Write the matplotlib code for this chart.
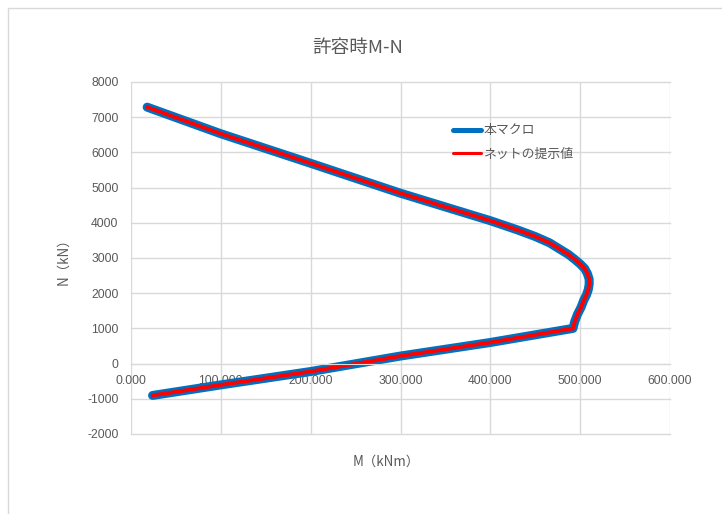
import matplotlib.pyplot as plt
from matplotlib.patches import Rectangle

# M-N interaction curve (allowable), kNm / kN, traced from top of the compression side
moment = [18, 100, 200, 300, 400, 430, 450, 466, 478, 487, 494, 500, 505, 508, 510,
          510, 509, 507, 504, 501, 497, 494, 492, 400, 300, 200, 100, 24]
axial = [7285, 6530, 5690, 4840, 4060, 3800, 3610, 3430, 3240, 3100, 2960, 2830, 2700,
         2560, 2400, 2250, 2100, 1950, 1800, 1600, 1400, 1200, 1000, 600, 215, -225, -605, -905]

# reference values from the web (same curve)
moment_net = list(moment)
axial_net = list(axial)

series_labels = ["本マクロ", "ネットの提示値"]
x_ticks = [0, 100, 200, 300, 400, 500, 600]
y_ticks = [-2000, -1000, 0, 1000, 2000, 3000, 4000, 5000, 6000, 7000, 8000]

GRID = "#D9D9D9"
TEXT = "#595959"
JP = ["Noto Sans CJK JP", "DejaVu Sans"]
NUM = ["Liberation Sans", "DejaVu Sans"]

W, H = 722, 514
fig = plt.figure(figsize=(W / 100, H / 100), dpi=100)
fig.patch.set_facecolor("white")

# chart area border
fig.patches.append(Rectangle((8 / W, -0.1), 1.2, 1.1 - 8 / H, transform=fig.transFigure,
                             fill=False, edgecolor=GRID, linewidth=1.0))

ax = fig.add_axes([131 / W, 80 / H, 539 / W, 352 / H])
ax.set_xlim(0, 600)
ax.set_ylim(-2000, 8000)
ax.set_xticks(x_ticks)
ax.set_yticks(y_ticks)
ax.set_xticklabels([f"{v:.3f}" for v in x_ticks])
ax.set_yticklabels([str(v) for v in y_ticks])
ax.grid(True, color=GRID, linewidth=1.0)
ax.set_axisbelow(True)
for gl in ax.get_xgridlines() + ax.get_ygridlines():
    gl.set_clip_on(False)
for side in ["top", "right", "left"]:
    ax.spines[side].set_visible(False)
ax.spines["bottom"].set_position(("data", 0))
ax.spines["bottom"].set_color(GRID)
ax.tick_params(axis="both", length=0, colors=TEXT, labelsize=8.7)
ax.tick_params(axis="x", pad=8)
ax.tick_params(axis="y", pad=9)
for lab in ax.get_xticklabels() + ax.get_yticklabels():
    lab.set_family(NUM)

ax.plot(moment, axial, color="#0070C0", linewidth=6.5, solid_capstyle="round",
        solid_joinstyle="round", label=series_labels[0], clip_on=False)
ax.plot(moment_net, axial_net, color="#FF0000", linewidth=2.8, solid_capstyle="round",
        solid_joinstyle="round", label=series_labels[1], clip_on=False)

leg = ax.legend(loc="upper left", bbox_to_anchor=(447 / W, 1 - 118 / H),
                bbox_transform=fig.transFigure, frameon=False, fontsize=9.3,
                handlelength=2.15, handletextpad=0.2, labelspacing=0.8, borderpad=0)
for line, lw in zip(leg.get_lines(), [3.6, 2.2]):
    line.set_linewidth(lw)
    line.set_solid_capstyle("round")
for t in leg.get_texts():
    t.set_color(TEXT)
    t.set_family(JP)

fig.text(358 / W, 1 - 48 / H, "許容時M-N", ha="center", va="center", fontsize=13.4,
         color=TEXT, family=JP)
fig.text(386 / W, 1 - 462 / H, "M（kNm）", ha="center", va="center", fontsize=9.6,
         color=TEXT, family=JP)
fig.text(63 / W, 1 - 258 / H, "N（kN）", ha="center", va="center", fontsize=9.6,
         color=TEXT, family=JP, rotation=90)

fig.savefig("out.png", dpi=100)
